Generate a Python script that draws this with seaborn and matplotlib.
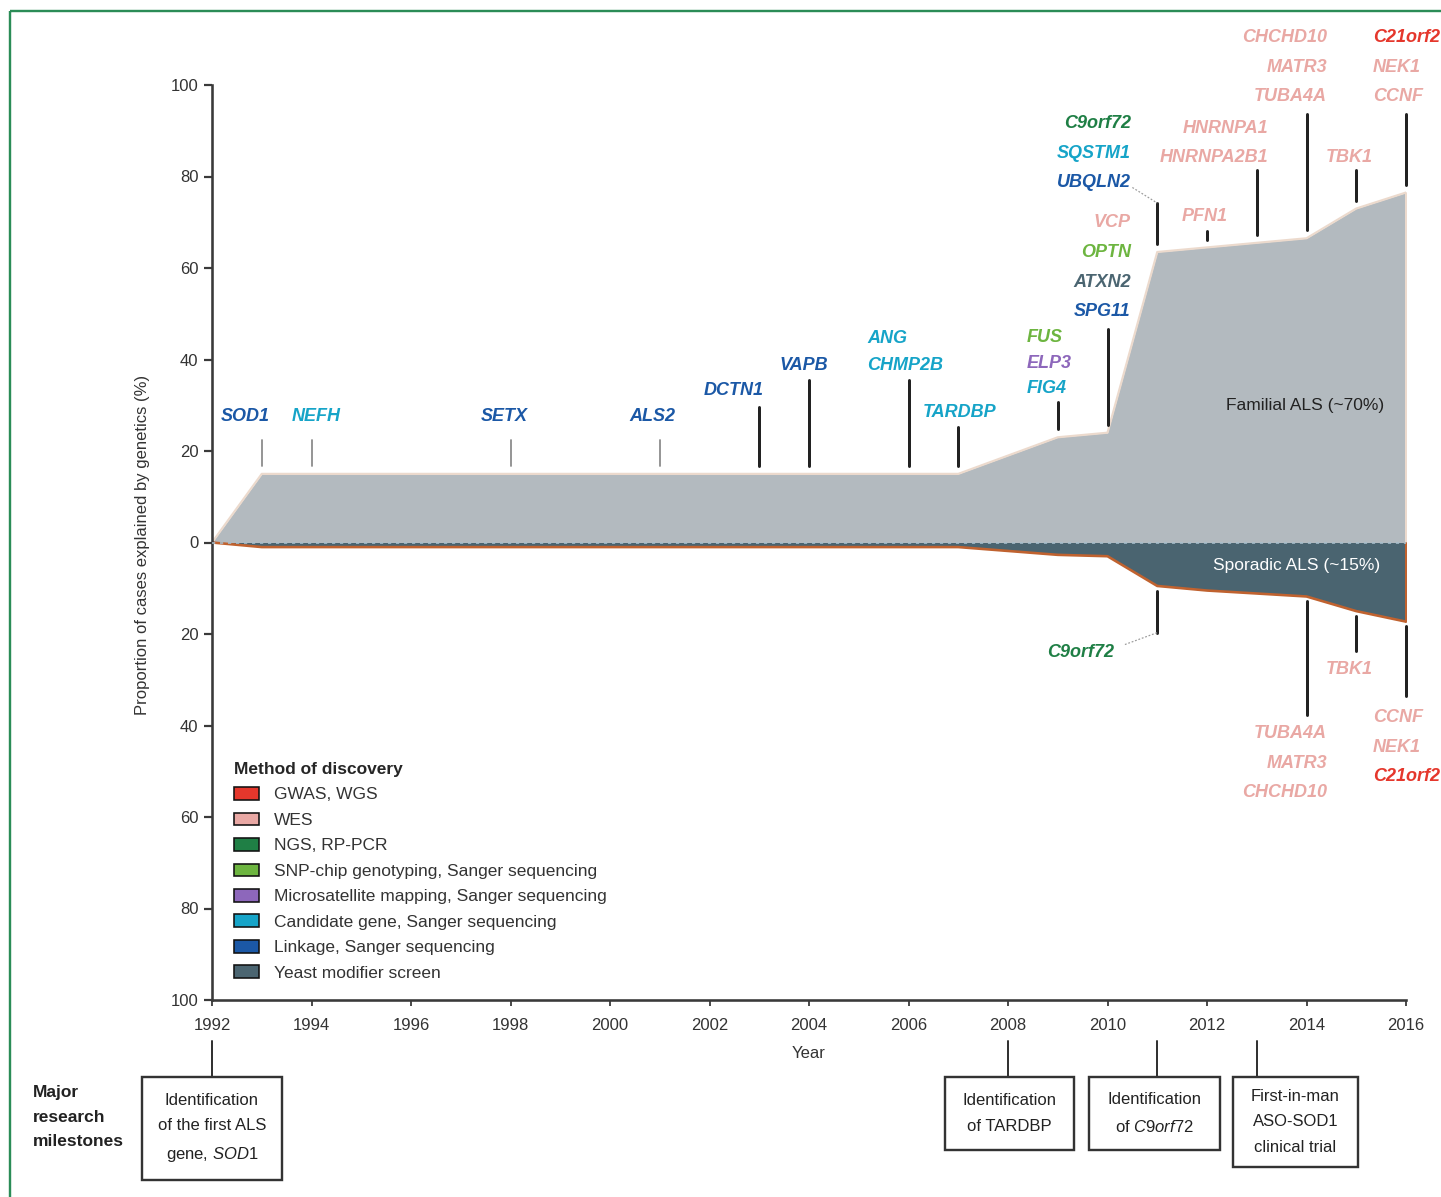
import matplotlib
matplotlib.use("Agg")
import matplotlib.pyplot as plt
import matplotlib.transforms as mtransforms
from matplotlib.patches import Patch, Rectangle
from matplotlib.lines import Line2D
import numpy as np
import pandas as pd
import seaborn as sns

# ---------------------------------------------------------------- data
# Cumulative proportion of cases explained by known genes (%)
familial_years = [1992, 1993, 2007, 2009, 2010, 2011, 2014, 2015, 2016]
familial_pct = [0, 15, 15, 23, 24, 63.5, 66.5, 73, 76.5]
sporadic_years = [1992, 1993, 2007, 2009, 2010, 2011, 2012, 2014, 2015, 2016]
sporadic_pct = [0, 1, 1, 2.7, 3, 9.5, 10.5, 11.8, 15, 17.3]   # drawn downward

methods = ["GWAS, WGS", "WES", "NGS, RP-PCR",
           "SNP-chip genotyping, Sanger sequencing",
           "Microsatellite mapping, Sanger sequencing",
           "Candidate gene, Sanger sequencing",
           "Linkage, Sanger sequencing", "Yeast modifier screen"]
method_colors = ["#e5372c", "#e9a8a4", "#1f7f45", "#6db540",
                 "#8d67bb", "#16a4c8", "#1b58a6", "#4b6571"]

# genes found in familial ALS (index into methods), bottom-up within a year
familial_genes = ["SOD1", "NEFH", "SETX", "ALS2", "DCTN1", "VAPB",
                  "CHMP2B", "ANG", "TARDBP", "FIG4", "ELP3", "FUS",
                  "SPG11", "ATXN2", "OPTN", "VCP", "UBQLN2", "SQSTM1", "C9orf72",
                  "PFN1", "HNRNPA2B1", "HNRNPA1", "TUBA4A", "MATR3", "CHCHD10",
                  "TBK1", "CCNF", "NEK1", "C21orf2"]
familial_gene_years = [1993, 1994, 1998, 2001, 2003, 2004,
                       2006, 2006, 2007, 2009, 2009, 2009,
                       2010, 2010, 2010, 2010, 2011, 2011, 2011,
                       2012, 2013, 2013, 2014, 2014, 2014,
                       2015, 2016, 2016, 2016]
familial_gene_methods = [6, 5, 6, 6, 6, 6,
                         5, 5, 5, 5, 4, 3,
                         6, 7, 3, 1, 6, 5, 2,
                         1, 1, 1, 1, 1, 1,
                         1, 1, 1, 0]

# genes found in sporadic ALS, top-down within a year
sporadic_genes = ["C9orf72", "TUBA4A", "MATR3", "CHCHD10", "TBK1", "CCNF", "NEK1", "C21orf2"]
sporadic_gene_years = [2011, 2014, 2014, 2014, 2015, 2016, 2016, 2016]
sporadic_gene_methods = [2, 1, 1, 1, 1, 1, 1, 0]

milestone_years = [1992, 2008, 2011, 2013]
milestone_texts = ["Identification\nof the first ALS\ngene, $\\mathit{SOD1}$",
                   "Identification\nof TARDBP",
                   "Identification\nof $\\mathit{C9orf72}$",
                   "First-in-man\nASO-SOD1\nclinical trial"]

year_ticks = list(range(1992, 2017, 2))
pct_ticks = list(range(-100, 101, 20))

# ---------------------------------------------------------------- layout
# label stacks above the familial area: year -> (x, ha, first label y, step, line top)
above_layout = {
    1993: (1992.66, "center", 27.5, 0, 22.5),
    1994: (1994.09, "center", 27.5, 0, 22.5),
    1998: (1997.87, "center", 27.5, 0, 22.5),
    2001: (2000.86, "center", 27.5, 0, 22.5),
    2003: (2002.49, "center", 33.2, 0, 29.7),
    2004: (2003.90, "center", 38.6, 0, 35.6),
    2006: (2005.17, "left", 38.6, 5.9, 35.6),
    2007: (2007.03, "center", 28.4, 0, 25.3),
    2009: (2008.38, "left", 33.6, 5.6, 30.8),
    2010: (2010.47, "right", 50.4, 6.5, 46.7),
    2011: (2010.47, "right", 78.6, 6.5, 74.2),
    2012: (2011.96, "center", 71.2, 0, 68.1),
    2013: (2013.23, "right", 84.1, 6.5, 81.4),
    2014: (2014.41, "right", 97.4, 6.5, 93.7),
    2015: (2014.85, "center", 84.1, 0, 81.4),
    2016: (2015.34, "left", 97.4, 6.5, 93.7),
}
# label stacks below the sporadic area: year -> (x, ha, first label y, step, line bottom)
below_layout = {
    2011: (2009.45, "center", -24.0, 0, -19.7),
    2014: (2014.41, "right", -41.7, 6.5, -37.6),
    2015: (2014.85, "center", -27.7, 0, -23.8),
    2016: (2015.34, "left", -38.2, 6.5, -33.6),
}

W, H = 1441, 1197
sns.set_theme(style="ticks")
plt.rcParams["font.family"] = ["Liberation Sans", "DejaVu Sans"]
plt.rcParams["axes.unicode_minus"] = False
plt.rcParams["mathtext.fontset"] = "custom"
plt.rcParams["mathtext.rm"] = "Liberation Sans"
plt.rcParams["mathtext.it"] = "Liberation Sans:italic"

fig = plt.figure(figsize=(W / 100, H / 100), dpi=100)
ax = fig.add_axes([212 / W, 1 - 1000 / H, 1194 / W, 915 / H])
px = mtransforms.Affine2D().scale(1 / W, -1 / H).translate(0, 1) + fig.transFigure
PT = 1 / 1.389   # pixels -> points

fam = pd.DataFrame({"year": familial_years, "pct": familial_pct})
spo = pd.DataFrame({"year": sporadic_years, "pct": [-v for v in sporadic_pct]})

# areas
ax.fill_between(fam["year"], 0, fam["pct"], color="#b3babf", lw=0, zorder=1)
ax.fill_between(spo["year"], 0, spo["pct"], color="#4a6470", lw=0, zorder=1)
sns.lineplot(data=fam, x="year", y="pct", ax=ax, color="#ecdacd", lw=2.2 * PT,
             zorder=2, estimator=None, sort=False)
sns.lineplot(data=spo, x="year", y="pct", ax=ax, color="#c0622f", lw=2.6 * PT,
             zorder=2, estimator=None, sort=False)
ax.plot([1992, 2016.3], [0, 0], color="#a9bfcc", lw=1.6 * PT, ls=(0, (2, 3)), zorder=3)
ax.plot([2016, 2016], [0, fam["pct"].iloc[-1]], color="#ecdacd",
        lw=2.0 * PT, zorder=2, clip_on=False)
ax.plot([2016, 2016], [0, spo["pct"].iloc[-1]], color="#c0622f",
        lw=2.0 * PT, zorder=2, clip_on=False)

ax.text(2013.97, 29.9, "Familial ALS (~70%)", ha="center", va="center",
        fontsize=12.5, color="#222222", zorder=4)
ax.text(2013.8, -5.0, "Sporadic ALS (~15%)", ha="center", va="center",
        fontsize=12.5, color="white", zorder=4)

# gene labels and leader lines
label_kw = dict(fontsize=13, fontweight="bold", fontstyle="italic", clip_on=False, zorder=5)
fam_interp = lambda y: np.interp(y, familial_years, familial_pct)
spo_interp = lambda y: -np.interp(y, sporadic_years, sporadic_pct)

for year, (x, ha, y0, step, line_top) in above_layout.items():
    idx = [i for i, yr in enumerate(familial_gene_years) if yr == year]
    for k, i in enumerate(idx):
        ax.text(x, y0 + k * step, familial_genes[i], ha=ha, va="center",
                color=method_colors[familial_gene_methods[i]], **label_kw)
    thin = year <= 2001
    ax.plot([year, year], [line_top, fam_interp(year) + 1.7],
            color="#8c8c8c" if thin else "#222222",
            lw=(1.8 if thin else 3.0) * PT, zorder=4, clip_on=False)

for year, (x, ha, y0, step, line_bot) in below_layout.items():
    idx = [i for i, yr in enumerate(sporadic_gene_years) if yr == year]
    for k, i in enumerate(idx):
        ax.text(x, y0 - k * step, sporadic_genes[i], ha=ha, va="center",
                color=method_colors[sporadic_gene_methods[i]], **label_kw)
    ax.plot([year, year], [spo_interp(year) - 1.0, line_bot], color="#222222",
            lw=3.0 * PT, zorder=4, clip_on=False)

# dotted connectors for the offset C9orf72 labels
ax.plot([2010.50, 2011], [77.6, 74.2], color="#9a9a9a", lw=1.2 * PT, ls=(0, (1.5, 1.5)), zorder=4)
ax.plot([2010.35, 2011], [-22.3, -19.7], color="#9a9a9a", lw=1.2 * PT, ls=(0, (1.5, 1.5)), zorder=4)

# axes styling
ax.set_xlim(1992, 2016)
ax.set_ylim(-100, 100)
ax.set_xticks(year_ticks)
ax.set_xticklabels([str(y) for y in year_ticks])
ax.set_yticks(pct_ticks)
ax.set_yticklabels([str(abs(v)) for v in pct_ticks])
for side in ("top", "right"):
    ax.spines[side].set_visible(False)
for side in ("left", "bottom"):
    ax.spines[side].set_color("#3a3a3a")
    ax.spines[side].set_linewidth(2.6 * PT)
ax.tick_params(axis="y", length=8 * PT, width=2.2 * PT, pad=4, labelsize=12,
               colors="#3a3a3a", labelcolor="#333333")
ax.tick_params(axis="x", length=6 * PT, width=1.8 * PT, pad=9, labelsize=12,
               colors="#3a3a3a", labelcolor="#333333")
ax.set_xlabel("Year", fontsize=12, color="#333333")
ax.xaxis.set_label_coords(0.5, -0.050)
ax.set_ylabel("Proportion of cases explained by genetics (%)", fontsize=12, color="#333333")
ax.yaxis.set_label_coords(-0.052, 0.497)
ax.set_facecolor("white")

# legend
handles = [Patch(facecolor=c, edgecolor="#111111", linewidth=1.6 * PT, label=m)
           for m, c in zip(methods, method_colors)]
leg = fig.legend(handles=handles, loc="upper left",
                 bbox_to_anchor=(234 / W, 1 - 762 / H), frameon=False,
                 title="Method of discovery", alignment="left",
                 title_fontproperties={"weight": "bold", "size": 12.5},
                 fontsize=12.5, handlelength=1.45, handleheight=0.75,
                 handletextpad=0.85, labelspacing=0.58, borderpad=0, borderaxespad=0)
for t in leg.get_texts():
    t.set_color("#333333")

# milestones
fig.text(33, 1117, "Major\nresearch\nmilestones", transform=px, ha="left", va="center",
         fontsize=12.5, fontweight="bold", color="#222222", linespacing=1.75)
boxes = [(142, 282, 1077, 1180), (945, 1074, 1077, 1150),
         (1089, 1220, 1077, 1150), (1233, 1358, 1077, 1167)]
for yr, txt, (x0, x1, y0, y1) in zip(milestone_years, milestone_texts, boxes):
    xp = 212 + (yr - 1992) * 1194 / 24
    fig.add_artist(Line2D([xp, xp], [1041, y0], transform=px, color="#333333", lw=2 * PT))
    fig.add_artist(Rectangle((x0, y0), x1 - x0, y1 - y0, transform=px, fill=False,
                             edgecolor="#333333", lw=2.4 * PT))
    fig.text((x0 + x1) / 2, (y0 + y1) / 2, txt, transform=px, ha="center", va="center",
             fontsize=12, color="#222222", linespacing=1.85)

# outer frame
fig.add_artist(Rectangle((9.5, 10.5), 1600, 1400, transform=px, fill=False,
                         edgecolor="#2b8c57", lw=2.4 * PT))

fig.savefig("out.png", dpi=100)
